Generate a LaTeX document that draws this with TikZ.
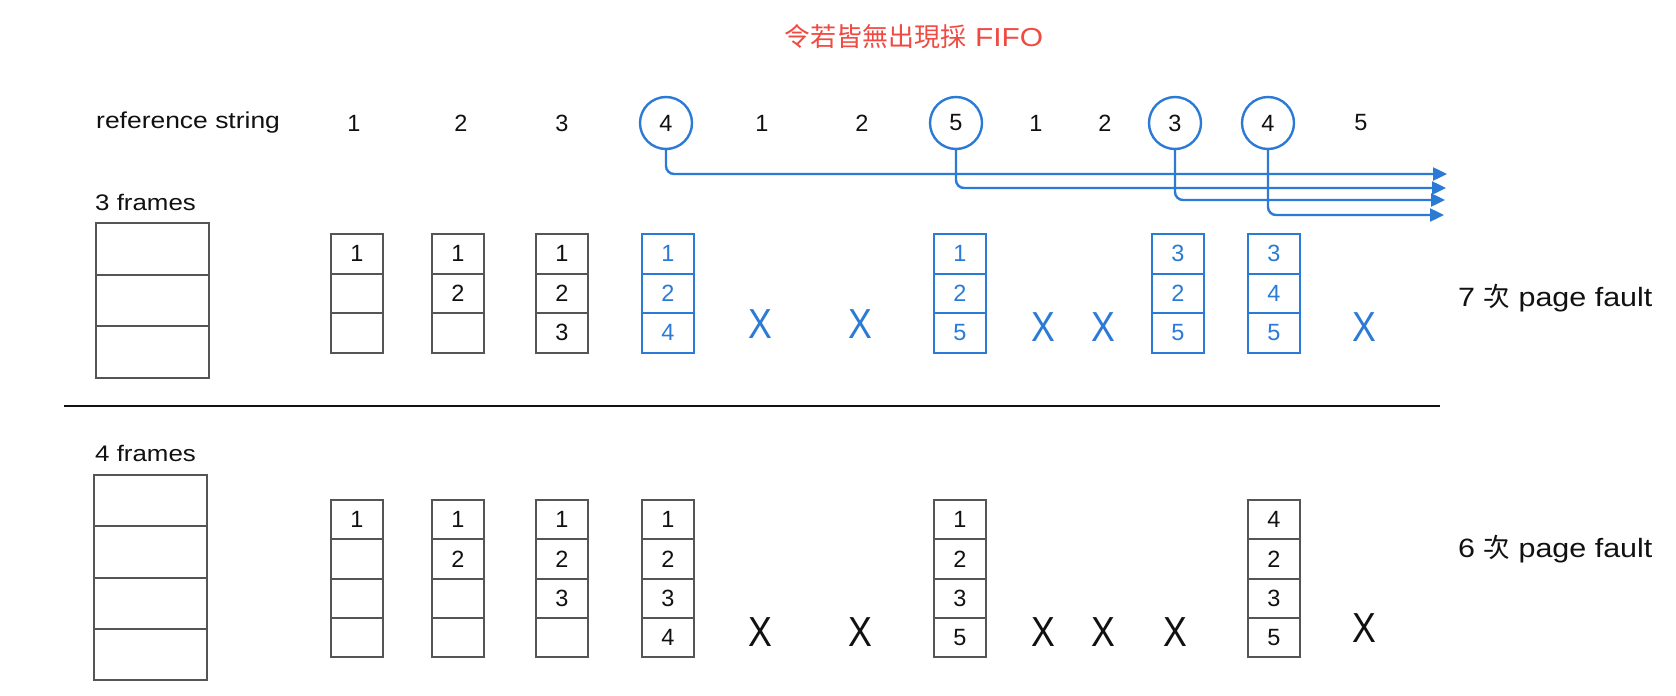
\documentclass[tikz,border=0pt]{standalone}
\usepackage{fontspec}
\setmainfont{Liberation Sans}[FakeStretch=1.15]
\newfontfamily\cjkf{Noto Sans CJK TC}
\newfontfamily\plainf{Liberation Sans}
\newfontfamily\xmarkf{Liberation Sans}[FakeStretch=0.85]
\usetikzlibrary{arrows.meta}
\definecolor{fblue}{HTML}{2B7BD6}
\definecolor{fred}{HTML}{F04A42}
\definecolor{fgray}{HTML}{555555}
\definecolor{ftext}{HTML}{111111}
\tikzset{
 cell/.style={draw=fgray, line width=2pt, minimum width=52pt, minimum height=39.5pt, inner sep=0pt, outer sep=0pt, anchor=north, text=ftext, font=\plainf\fontsize{23.5}{27}\selectfont},
 bcell/.style={cell, draw=fblue, text=fblue},
 cellfour/.style={cell, minimum height=39.3pt},
 bigcell/.style={draw=fgray, line width=2pt, minimum width=113pt, minimum height=51.6pt, inner sep=0pt, outer sep=0pt, anchor=north},
 refnum/.style={text=ftext, font=\plainf\fontsize{23.5}{27}\selectfont, inner sep=0pt},
 ring/.style={refnum, circle, draw=fblue, line width=2.4pt, minimum size=52pt},
 flow/.style={draw=fblue, line width=2.4pt, rounded corners=8pt, -{Triangle[length=14pt,width=13pt]}},
 xmark/.style={text=fblue, font=\xmarkf\fontsize{42}{46}\selectfont, inner sep=0pt},
 kmark/.style={xmark, text=ftext},
 lbl/.style={text=ftext, font=\fontsize{22.5}{27}\selectfont, inner sep=0pt, anchor=base west},
 faultlbl/.style={text=ftext, font=\fontsize{26.5}{30}\selectfont, inner sep=0pt, anchor=base west},
 titlelbl/.style={text=fred, font=\fontsize{26}{30}\selectfont, inner sep=0pt, anchor=base},
}
\newcommand\tcol[6]{%
 \node[#3] (#1a) at (#2,234) {#4};
 \node[#3] (#1b) at (#1a.south) {#5};
 \node[#3] (#1c) at (#1b.south) {#6};}
\newcommand\fcol[6]{%
 \node[cellfour] (#1a) at (#2,500) {#3};
 \node[cellfour] (#1b) at (#1a.south) {#4};
 \node[cellfour] (#1c) at (#1b.south) {#5};
 \node[cellfour] (#1d) at (#1c.south) {#6};}
\begin{document}
\begin{tikzpicture}[x=1pt,y=-1pt]
\useasboundingbox[fill=white] (0,0) rectangle (1676,696);
% title
\node[titlelbl] (title) at (914,46) {{\cjkf 令若皆無出現採} FIFO};
% reference string
\node[lbl, font=\fontsize{23}{27}\selectfont] (rs) at (96,128) {reference string};
\node[refnum] (r1) at (354,123) {1};
\node[refnum] (r2) at (461,123) {2};
\node[refnum] (r3) at (562,123) {3};
\node[ring] (r4) at (666,123) {4};
\node[refnum] (r5) at (762,123) {1};
\node[refnum] (r6) at (862,123) {2};
\node[ring] (r7) at (956,123) {5};
\node[refnum] (r8) at (1036,123) {1};
\node[refnum] (r9) at (1105,123) {2};
\node[ring] (r10) at (1175,123) {3};
\node[ring] (r11) at (1268,123) {4};
\node[refnum] (r12) at (1361,123) {5};
% flow arrows
\coordinate (e1) at (1447,174);
\coordinate (e2) at (1446,188);
\coordinate (e3) at (1445,200);
\coordinate (e4) at (1444,215);
\draw[flow] (r4.south) |- (e1);
\draw[flow] (r7.south) |- (e2);
\draw[flow] (r10.south) |- (e3);
\draw[flow] (r11.south) |- (e4);
% 3 frames
\node[lbl] (l3) at (95,210.5) {3 frames};
\node[bigcell] (ta) at (152,223) {};
\node[bigcell] (tb) at (ta.south) {};
\node[bigcell] (tc) at (tb.south) {};
\tcol{ca}{357}{cell}{1}{}{}
\tcol{cb}{458}{cell}{1}{2}{}
\tcol{cc}{562}{cell}{1}{2}{3}
\tcol{cd}{668}{bcell}{1}{2}{4}
\tcol{ce}{960}{bcell}{1}{2}{5}
\tcol{cf}{1178}{bcell}{3}{2}{5}
\tcol{cg}{1274}{bcell}{3}{4}{5}
\node[xmark] (x1) at (760,324) {X};
\node[xmark] (x2) at (860,324) {X};
\node[xmark] (x3) at (1043,327) {X};
\node[xmark] (x4) at (1103,327) {X};
\node[xmark] (x5) at (1364,327) {X};
\node[faultlbl] (f3) at (1458,306) {7 {\cjkf 次} page fault};
% divider
\draw[line width=2pt, ftext] (64,406) -- (1440,406);
% 4 frames
\node[lbl] (l4) at (95,461) {4 frames};
\node[bigcell, minimum height=51.3pt] (ba) at (150,475) {};
\node[bigcell, minimum height=51.3pt] (bb) at (ba.south) {};
\node[bigcell, minimum height=51.3pt] (bc) at (bb.south) {};
\node[bigcell, minimum height=51.3pt] (bd) at (bc.south) {};
\fcol{da}{357}{1}{}{}{}
\fcol{db}{458}{1}{2}{}{}
\fcol{dc}{562}{1}{2}{3}{}
\fcol{dd}{668}{1}{2}{3}{4}
\fcol{de}{960}{1}{2}{3}{5}
\fcol{df}{1274}{4}{2}{3}{5}
\node[kmark] (y1) at (760,632) {X};
\node[kmark] (y2) at (860,632) {X};
\node[kmark] (y3) at (1043,632) {X};
\node[kmark] (y4) at (1103,632) {X};
\node[kmark] (y5) at (1175,632) {X};
\node[kmark] (y6) at (1364,628) {X};
\node[faultlbl] (f4) at (1458,557) {6 {\cjkf 次} page fault};
\end{tikzpicture}
\end{document}
